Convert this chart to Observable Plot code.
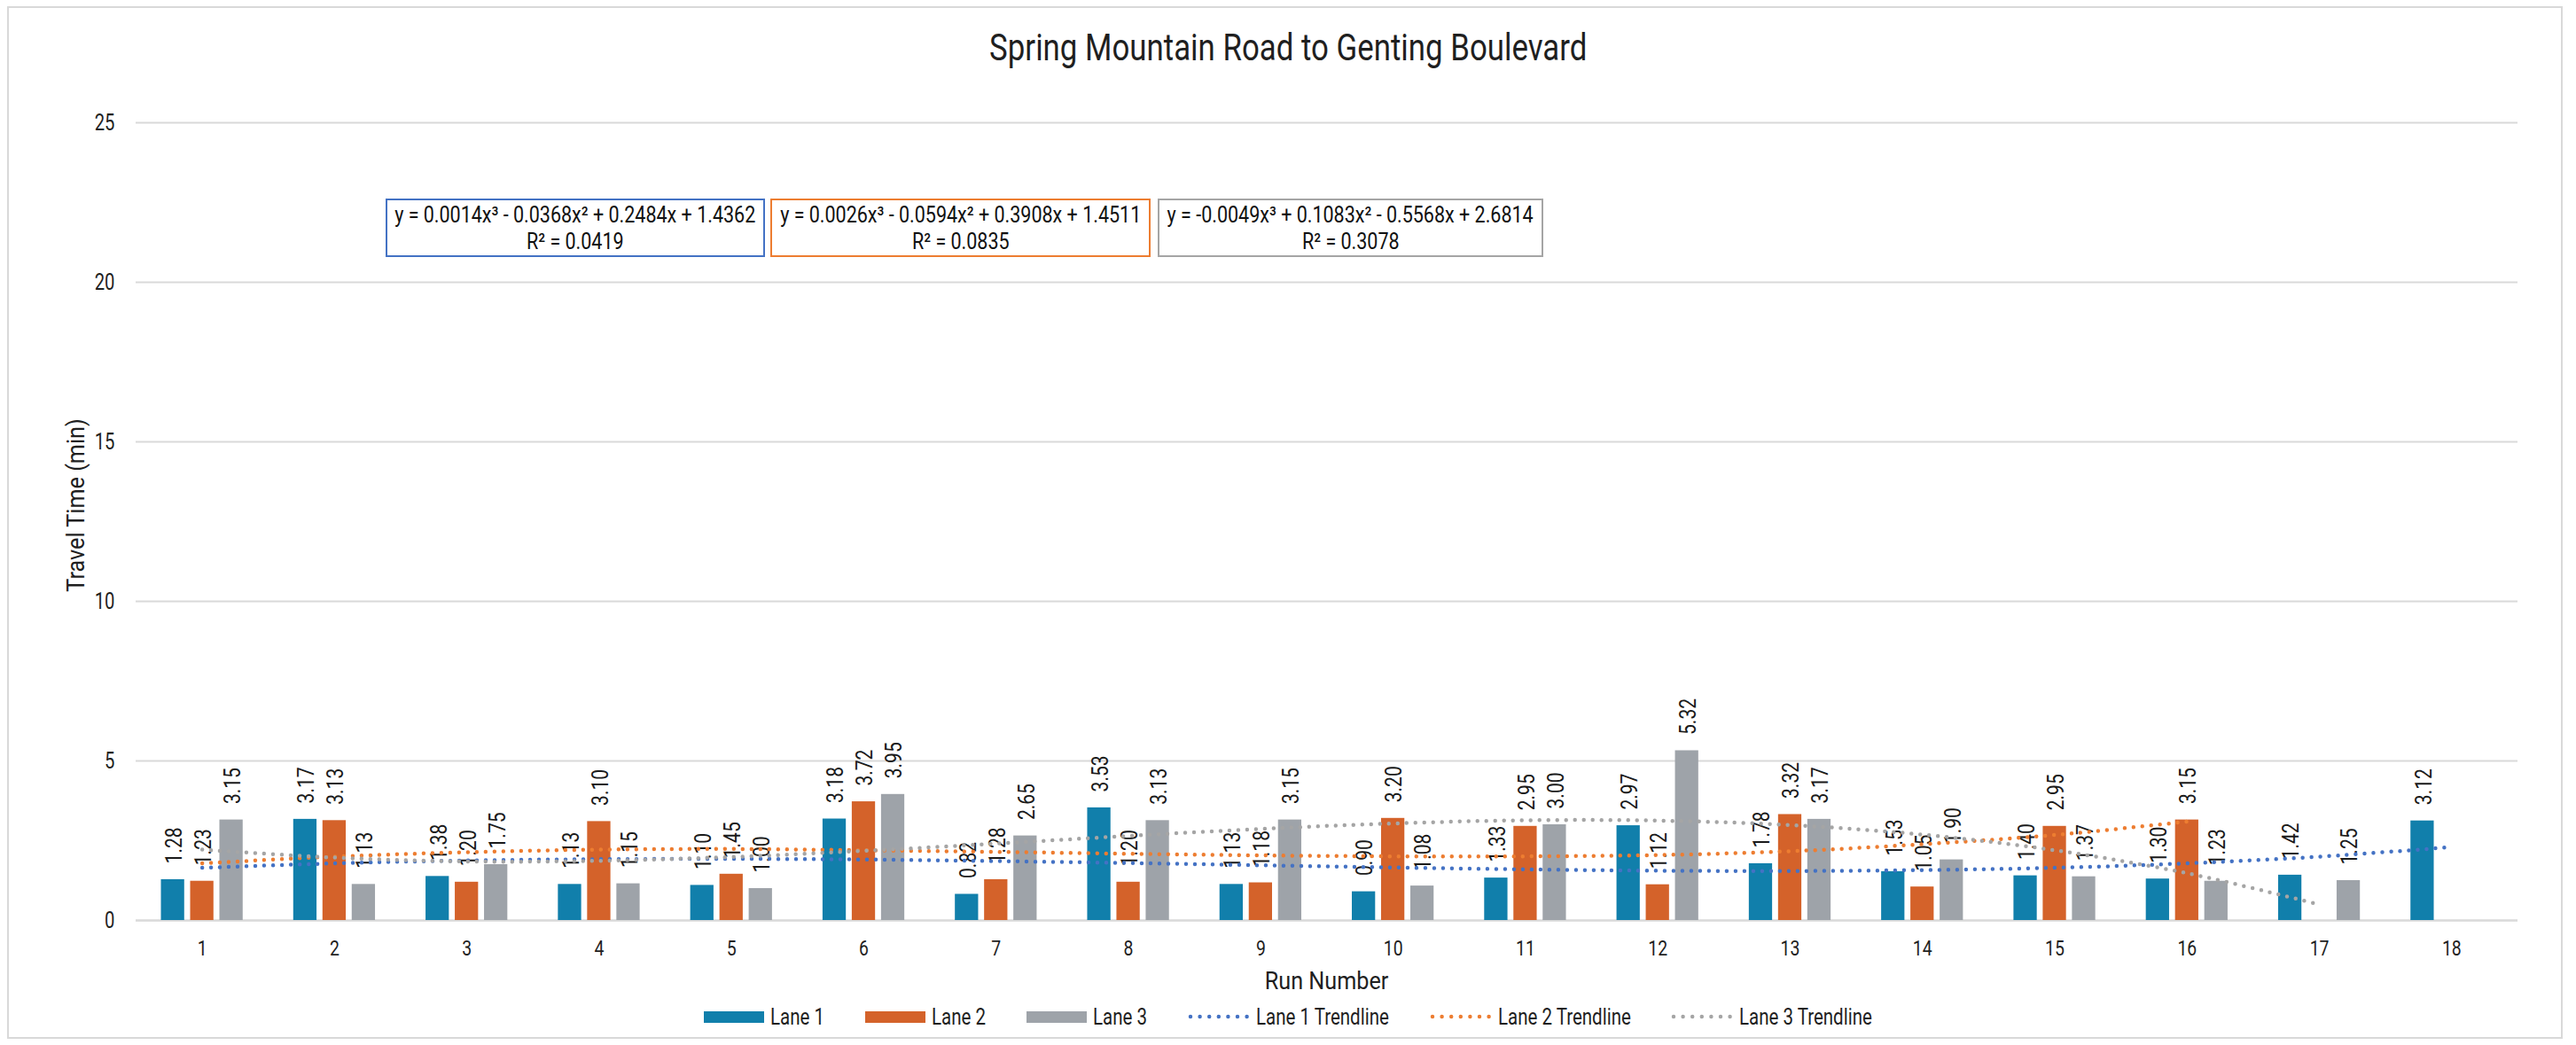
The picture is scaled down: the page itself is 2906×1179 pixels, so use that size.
<!DOCTYPE html>
<html>
<head>
<meta charset="utf-8">
<script src="https://cdn.jsdelivr.net/npm/d3@7"></script>
<script src="https://cdn.jsdelivr.net/npm/@observablehq/plot@0.6"></script>
<style>
  body { margin: 0; background: #fff; }
  #page { position: relative; width: 2906px; height: 1179px; overflow: hidden;
          font-family: Roboto, "Liberation Sans", sans-serif; color: #1f1f1f; }
  #frame { position: absolute; left: 8px; top: 7px; width: 2883px; height: 1165px;
           border: 2px solid #d9d9d9; box-sizing: border-box; }
  .c { display: inline-block; white-space: nowrap; }
  #title { position: absolute; left: 0; width: 2906px; top: 26px; text-align: center;
           font-size: 43px; line-height: 54px; white-space: nowrap; }
  #title .c { transform: scaleX(0.81); transform-origin: center; }
  #chart { position: absolute; left: 0; top: 100px; }
  .eq { position: absolute; top: 224px; height: 66px; box-sizing: border-box; border: 2px solid;
        font-size: 25px; line-height: 30px; padding-top: 2px; background: #fff;
        color: #111; white-space: nowrap; overflow: visible; }
  .eq > div { display: flex; justify-content: center; }
  .eq .c { transform: scaleX(0.86); transform-origin: center; }
  #ytitle { position: absolute; left: 85px; top: 570px; transform: translate(-50%, -50%) rotate(-90deg) scaleX(0.9);
            font-size: 28px; white-space: nowrap; }
  #xtitle { position: absolute; left: 153px; width: 2687px; top: 1090px; text-align: center;
            font-size: 28px; line-height: 34px; white-space: nowrap; }
  #xtitle .c { transform: scaleX(0.9); transform-origin: center; }
  #legend { position: absolute; left: 0; width: 2906px; top: 1132px; height: 30px; display: flex;
            justify-content: center; align-items: center; gap: 46px; font-size: 25px; }
  .item { display: flex; align-items: center; gap: 7px; }
  .sw { width: 68px; height: 13px; display: inline-block; }
</style>
</head>
<body>
<div id="page">
  <div id="frame"></div>
  <div id="title"><span class="c">Spring Mountain Road to Genting Boulevard</span></div>
  <div id="chart"></div>
  <div id="ytitle">Travel Time (min)</div>
  <div id="xtitle"><span class="c">Run Number</span></div>
  <div id="legend"></div>
</div>
<script>
// ---- data ----
const runs = [1,2,3,4,5,6,7,8,9,10,11,12,13,14,15,16,17,18];
const lane1 = [1.28,3.17,1.38,1.13,1.10,3.18,0.82,3.53,1.13,0.90,1.33,2.97,1.78,1.53,1.40,1.30,1.42,3.12];
const lane2 = [1.23,3.13,1.20,3.10,1.45,3.72,1.28,1.20,1.18,3.20,2.95,1.12,3.32,1.05,2.95,3.15,null,null];
const lane3 = [3.15,1.13,1.75,1.15,1.00,3.95,2.65,3.13,3.15,1.08,3.00,5.32,3.17,1.90,1.37,1.23,1.25,null];
// trendline values at each run
const trend1 = [1.65,1.79,1.88,1.92,1.93,1.91,1.86,1.80,1.73,1.66,1.60,1.56,1.55,1.58,1.65,1.79,2.00,2.30];
const trend2 = [1.79,2.00,2.14,2.22,2.24,2.20,2.15,2.09,2.04,2.01,2.01,2.05,2.17,2.39,2.68,3.10];
const trend3 = [2.22,1.97,1.85,1.87,1.99,2.18,2.41,2.65,2.87,3.04,3.14,3.13,2.99,2.69,2.20,1.48,0.50];
const laneNames = ["Lane 1","Lane 2","Lane 3"];
const trendNames = ["Lane 1 Trendline","Lane 2 Trendline","Lane 3 Trendline"];
const yTicks = [0,5,10,15,20,25];
const equations = [
  ["y = 0.0014x³ - 0.0368x² + 0.2484x + 1.4362", "R² = 0.0419"],
  ["y = 0.0026x³ - 0.0594x² + 0.3908x + 1.4511", "R² = 0.0835"],
  ["y = -0.0049x³ + 0.1083x² - 0.5568x + 2.6814", "R² = 0.3078"]
];

// ---- styles ----
const barColors = ["#117fab", "#d4622a", "#9ea3a9"];
const trendColors = ["#4472c4", "#ed7d31", "#a5a5a5"];
const laneOffset = {"Lane 1": -0.221, "Lane 2": 0, "Lane 3": 0.221};
const halfW = 0.088;
const squeeze = 0.81;

const rows = [];
[lane1, lane2, lane3].forEach((arr, i) => arr.forEach((v, j) => {
  if (v != null) rows.push({run: runs[j], lane: laneNames[i], value: v});
}));
const trends = [trend1, trend2, trend3].map((arr, i) =>
  arr.map((v, j) => ({run: runs[j], value: v, series: trendNames[i]})));

const font = 'Roboto, "Liberation Sans", sans-serif';

const chart = Plot.plot({
  width: 2906,
  height: 1025,
  marginTop: 38,
  marginBottom: 87,
  marginLeft: 153,
  marginRight: 66,
  style: {fontFamily: font, background: "transparent", overflow: "visible"},
  x: {domain: [0.5, 18.5]},
  y: {domain: [0, 25]},
  color: {domain: laneNames, range: barColors},
  marks: [
    Plot.gridY(yTicks.filter(t => t > 0), {stroke: "#d9d9d9", strokeOpacity: 1, strokeWidth: 2}),
    Plot.ruleY([0], {stroke: "#d9d9d9", strokeWidth: 2.5}),
    Plot.rectY(rows, {
      x1: d => d.run + laneOffset[d.lane] - halfW,
      x2: d => d.run + laneOffset[d.lane] + halfW,
      y1: 0, y2: "value", fill: "lane"
    }),
    Plot.text(rows, {
      x: d => d.run + laneOffset[d.lane] + 0.01, y: "value",
      text: d => d.value.toFixed(2), rotate: -90, textAnchor: "start",
      dy: -18, fontSize: 26, fill: "#1a1a1a"
    }),
    ...trends.map((t, i) => Plot.line(t, {
      x: "run", y: "value", stroke: trendColors[i], strokeWidth: 4.5,
      strokeDasharray: "0 10", strokeLinecap: "round", curve: "catmull-rom"
    })),
    Plot.axisY({ticks: yTicks, tickSize: 0, tickPadding: 24, label: null,
      fontSize: 25, fill: "#1f1f1f"}),
    Plot.axisX({ticks: runs, tickSize: 0, tickPadding: 22, label: null,
      fontSize: 24, fill: "#1f1f1f"})
  ]
});
// condense the SVG text horizontally (narrow typeface of the original)
chart.querySelectorAll("text").forEach(t => {
  const tr = t.getAttribute("transform");
  if (tr) t.setAttribute("transform", tr + ` scale(${squeeze},1)`);
  else {
    const x = +t.getAttribute("x") || 0, y = +t.getAttribute("y") || 0;
    t.setAttribute("x", 0); t.setAttribute("y", 0);
    t.setAttribute("transform", `translate(${x},${y}) scale(${squeeze},1)`);
  }
});
document.getElementById("chart").appendChild(chart);

// ---- equation boxes ----
const eqBoxes = [{left: 435, width: 428}, {left: 869, width: 429}, {left: 1306, width: 435}];
const page = document.getElementById("page");
equations.forEach((e, i) => {
  const div = document.createElement("div");
  div.className = "eq";
  div.style.left = eqBoxes[i].left + "px";
  div.style.width = eqBoxes[i].width + "px";
  div.style.borderColor = trendColors[i];
  div.innerHTML = `<div><span class="c">${e[0]}</span></div><div><span class="c">${e[1]}</span></div>`;
  page.appendChild(div);
});

// ---- legend ----
const legend = document.getElementById("legend");
function addItem(swatchHTML, label) {
  const it = document.createElement("div");
  it.className = "item";
  it.innerHTML = swatchHTML + `<span class="c">${label}</span>`;
  legend.appendChild(it);
  const s = it.querySelector(".c");
  const w = s.getBoundingClientRect().width;
  s.style.transformOrigin = "left center";
  s.style.transform = "scaleX(0.82)";
  s.style.marginRight = (-(w * 0.18)) + "px";
}
laneNames.forEach((n, i) =>
  addItem(`<span class="sw" style="background:${barColors[i]}"></span>`, n));
trendNames.forEach((n, i) =>
  addItem(`<svg width="70" height="14"><line x1="3" x2="67" y1="7" y2="7" stroke="${trendColors[i]}" stroke-width="4.5" stroke-dasharray="0 10.6" stroke-linecap="round"/></svg>`, n));
</script>
</body>
</html>
